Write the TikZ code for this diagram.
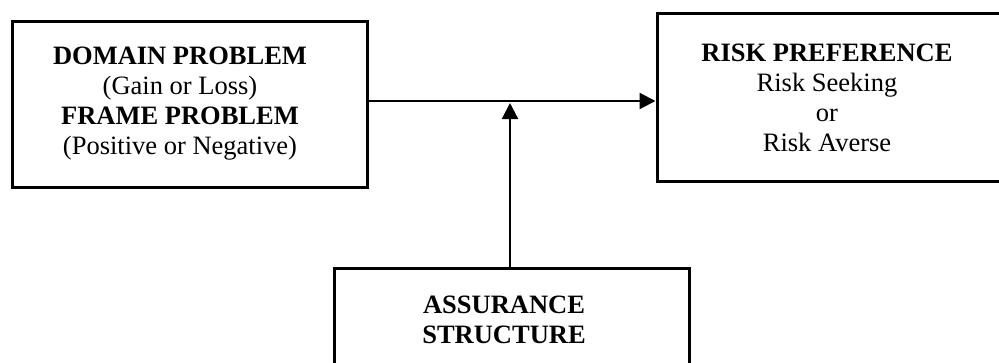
\documentclass[tikz,border=0pt]{standalone}
\usepackage{fontspec}
\setmainfont{Liberation Serif}
\usetikzlibrary{arrows.meta}
\tikzset{
  boxframe/.style={draw=black, line width=3pt, fill=none, inner sep=0pt, rectangle},
  boxtext/.style={inner sep=0pt, align=center, font=\fontsize{26.5}{30}\selectfont},
  conn/.style={draw=black, line width=2.2pt, -{Triangle[length=16pt,width=16pt]}}
}
\begin{document}
\begin{tikzpicture}[x=1pt,y=-1pt]
\useasboundingbox (0,0) rectangle (999,362);
\clip (0,0) rectangle (999,362);
% boxes
\node[boxframe, minimum width=355pt, minimum height=166pt] (dp) at (189.5,104) {};
\node[boxframe, minimum width=346pt, minimum height=168pt] (rp) at (830,97) {};
\node[boxframe, minimum width=355pt, minimum height=98pt] (as) at (511.5,317) {};
% texts
\node[boxtext] (dpt) at (180,103.5) {\textbf{DOMAIN PROBLEM}\\(Gain or Loss)\\\textbf{FRAME PROBLEM}\\(Positive or Negative)};
\node[boxtext] (rpt) at (827,97.5) {\textbf{RISK PREFERENCE}\\Risk Seeking\\or\\Risk Averse};
\node[boxtext] (ast) at (504,320) {\textbf{ASSURANCE}\\\textbf{STRUCTURE}};
% connectors
\coordinate (h) at (0,101);
\coordinate (v) at (510,103);
\draw[conn] (dp.east |- h) -- (rp.west |- h);
\draw[conn] (as.north -| v) -- (v);
\end{tikzpicture}
\end{document}
